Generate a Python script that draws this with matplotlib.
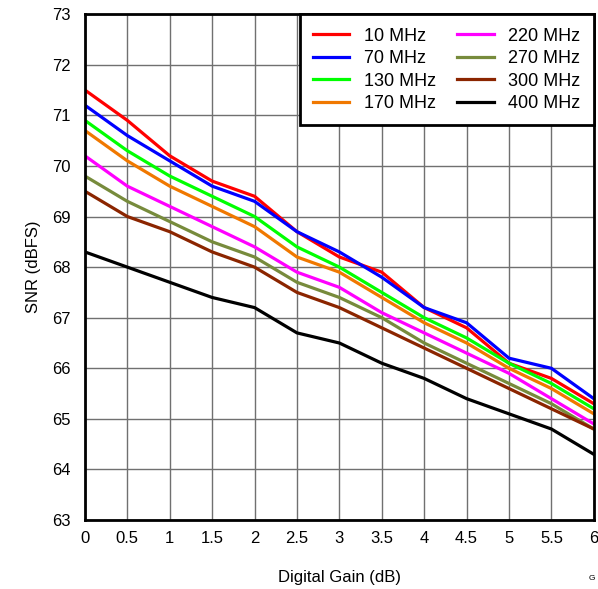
import matplotlib
matplotlib.use("Agg")
import matplotlib.pyplot as plt

plt.rcParams['font.family'] = ['Liberation Sans', 'DejaVu Sans']

gain = [0, 0.5, 1, 1.5, 2, 2.5, 3, 3.5, 4, 4.5, 5, 5.5, 6]

snr_10 = [71.5, 70.9, 70.2, 69.7, 69.4, 68.7, 68.2, 67.9, 67.2, 66.8, 66.1, 65.8, 65.3]
snr_70 = [71.2, 70.6, 70.1, 69.6, 69.3, 68.7, 68.3, 67.8, 67.2, 66.9, 66.2, 66.0, 65.4]
snr_130 = [70.9, 70.3, 69.8, 69.4, 69.0, 68.4, 68.0, 67.5, 67.0, 66.6, 66.1, 65.7, 65.2]
snr_170 = [70.7, 70.1, 69.6, 69.2, 68.8, 68.2, 67.9, 67.4, 66.9, 66.5, 66.0, 65.6, 65.1]
snr_220 = [70.2, 69.6, 69.2, 68.8, 68.4, 67.9, 67.6, 67.1, 66.7, 66.3, 65.9, 65.4, 64.9]
snr_270 = [69.8, 69.3, 68.9, 68.5, 68.2, 67.7, 67.4, 67.0, 66.5, 66.1, 65.7, 65.3, 64.8]
snr_300 = [69.5, 69.0, 68.7, 68.3, 68.0, 67.5, 67.2, 66.8, 66.4, 66.0, 65.6, 65.2, 64.8]
snr_400 = [68.3, 68.0, 67.7, 67.4, 67.2, 66.7, 66.5, 66.1, 65.8, 65.4, 65.1, 64.8, 64.3]

labels = ["10 MHz", "70 MHz", "130 MHz", "170 MHz", "220 MHz", "270 MHz", "300 MHz", "400 MHz"]
series = [snr_10, snr_70, snr_130, snr_170, snr_220, snr_270, snr_300, snr_400]
colori = ["#FF0000", "#0000FF", "#00FF00", "#F07800", "#FF00FF", "#778B3C", "#8B2500", "#000000"]

fig = plt.figure(figsize=(5.98, 5.89), dpi=100)
ax = fig.add_axes([0.142, 0.117, 0.851, 0.859])

for y, lab, c in zip(series, labels, colori):
    ax.plot(gain, y, color=c, lw=2.3, label=lab, solid_joinstyle="miter")

ax.set_xlim(0, 6)
ax.set_ylim(63, 73)
ax.set_xticks(gain)
ax.set_xticklabels(["0", "0.5", "1", "1.5", "2", "2.5", "3", "3.5", "4", "4.5", "5", "5.5", "6"])
ax.set_yticks(range(63, 74))
ax.tick_params(axis="y", length=0, labelsize=12, pad=10)
ax.tick_params(axis="x", length=0, labelsize=12, pad=8)
ax.grid(True, color="#707070", lw=1)
for s in ax.spines.values():
    s.set_linewidth(2)
    s.set_color("black")

ax.set_xlabel("Digital Gain (dB)", fontsize=12, labelpad=17)
ax.set_ylabel("SNR (dBFS)", fontsize=12, labelpad=8)

leg = ax.legend(ncol=2, loc="upper right", fontsize=13, frameon=True, fancybox=False,
                borderaxespad=0, handlelength=2.0, columnspacing=1.2, labelspacing=0.3,
                handletextpad=0.8, borderpad=0.75)
leg.get_frame().set_edgecolor("black")
leg.get_frame().set_linewidth(2)
leg.get_frame().set_alpha(1)

fig.text(0.985, 0.012, "G", fontsize=6, ha="left", va="bottom")

fig.savefig("out.png", dpi=100)
